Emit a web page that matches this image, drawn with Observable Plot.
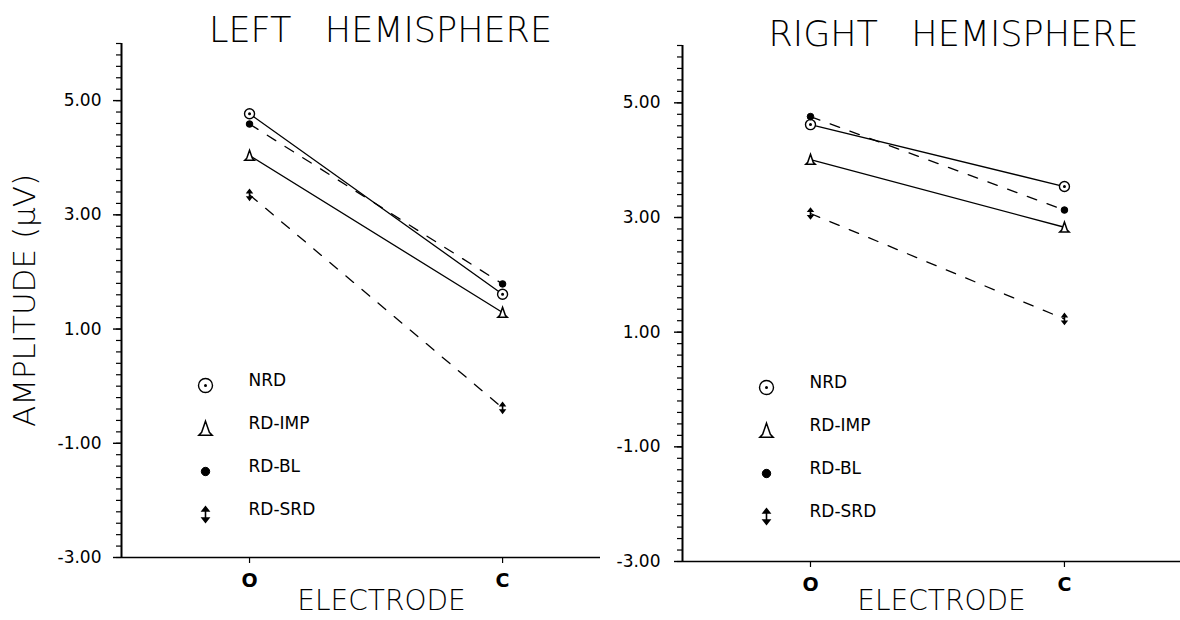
<!DOCTYPE html>
<html>
<head>
<meta charset="utf-8">
<script src="https://cdn.jsdelivr.net/npm/d3@7"></script>
<script src="https://cdn.jsdelivr.net/npm/@observablehq/plot@0.6"></script>
<style>
  html, body { margin: 0; padding: 0; background: #fff; }
  #chart { position: relative; width: 1180px; height: 620px; overflow: hidden; background: #fff; }
  #chart svg { position: absolute; top: 0; }
</style>
</head>
<body>
<div id="chart"></div>
<script>
// Mean evoked amplitude (µV) at occipital (O) and central (C) electrodes
const electrodes = ["O", "C"];
const groups = ["NRD", "RD-IMP", "RD-BL", "RD-SRD"];
const leftO  = [4.77, 4.04, 4.59, 3.35];
const leftC  = [1.61, 1.29, 1.79, -0.38];
const rightO = [4.62, 4.01, 4.76, 3.07];
const rightC = [3.54, 2.83, 3.13, 1.23];
const yTicks = [-3, -1, 1, 3, 5];

const FONT = "'DejaVu Sans', 'Liberation Sans', sans-serif";

// marker shapes
const circleDot = {
  draw(ctx, size) {
    const r = Math.sqrt(size / Math.PI);
    ctx.moveTo(r, 0); ctx.arc(0, 0, r, 0, 2 * Math.PI);
    ctx.moveTo(0.8, 0); ctx.arc(0, 0, 0.8, 0, 2 * Math.PI);
  }
};
const bell = {
  draw(ctx, size) {
    const r = Math.sqrt(size / Math.PI);
    ctx.moveTo(0, -r * 1.05);
    ctx.lineTo(r * 0.55, r * 0.55);
    ctx.lineTo(r * 0.95, r * 0.95);
    ctx.lineTo(-r * 0.95, r * 0.95);
    ctx.lineTo(-r * 0.55, r * 0.55);
    ctx.closePath();
  }
};
const doubleArrow = {
  draw(ctx, size) {
    const r = Math.sqrt(size / Math.PI) * 1.2;
    ctx.moveTo(0, -0.6 * r); ctx.lineTo(0, 0.6 * r);
    ctx.moveTo(-0.42 * r, -0.45 * r); ctx.lineTo(0, -r); ctx.lineTo(0.42 * r, -0.45 * r); ctx.closePath();
    ctx.moveTo(-0.42 * r, 0.45 * r); ctx.lineTo(0, r); ctx.lineTo(0.42 * r, 0.45 * r); ctx.closePath();
  }
};

const look = {
  "NRD":    {symbol: circleDot,   fill: "white", strokeWidth: 1.4, r: 5,   lr: 7,   dashed: false},
  "RD-IMP": {symbol: bell,        fill: "white", strokeWidth: 1.5, r: 5,   lr: 7,   dashed: false},
  "RD-BL":  {symbol: "circle",    fill: "black", strokeWidth: 1,   r: 3.3, lr: 4.2, dashed: true},
  "RD-SRD": {symbol: doubleArrow, fill: "black", strokeWidth: 1.6, r: 4.2, lr: 6.5, dashed: true}
};

function rows(oVals, cVals) {
  const out = [];
  groups.forEach((g, i) => {
    out.push({group: g, x: 1, value: oVals[i]});
    out.push({group: g, x: 2, value: cVals[i]});
  });
  return out;
}

function panel({title, oVals, cVals, width, marginLeft, marginTop, marginBottom, xDomain,
                titleDx, titleDy, labelDx, labelDy, tickPad, yLabel}) {
  const data = rows(oVals, cVals);
  const minor = d3.range(-30, 61, 2).map(v => v / 10);
  const marks = [
    // minor and major ticks on the amplitude axis
    Plot.axisY({ticks: minor, tickSize: 5, tickFormat: () => "", label: null, strokeWidth: 1.2}),
    Plot.axisY({ticks: yTicks, tickSize: 8, tickPadding: tickPad, label: null, strokeWidth: 1.4,
      tickFormat: d => (d < 0 ? "-" : "") + Math.abs(d).toFixed(2),
      fontSize: 17, fontFamily: FONT}),
    Plot.axisX({ticks: [1, 2], tickSize: 6, tickPadding: 10, label: null, strokeWidth: 1.2,
      tickFormat: d => electrodes[d - 1], fontSize: 19, fontWeight: "bold", fontFamily: FONT}),
    Plot.ruleX([xDomain[0]], {strokeWidth: 2}),
    Plot.ruleY([-3], {strokeWidth: 1.6}),
    Plot.line(data.filter(d => !look[d.group].dashed), {x: "x", y: "value", z: "group", strokeWidth: 1.3}),
    Plot.line(data.filter(d => look[d.group].dashed), {x: "x", y: "value", z: "group", strokeWidth: 1.3, strokeDasharray: "10,11"}),
    ...groups.map(g => Plot.dot(data.filter(d => d.group === g), {
      x: "x", y: "value", symbol: look[g].symbol, r: look[g].r,
      fill: look[g].fill, stroke: "black", strokeWidth: look[g].strokeWidth
    })),
    // legend
    ...groups.map((g, i) => Plot.dot([g], {
      frameAnchor: "top-left", dx: 84, dy: 342 + 43 * i, symbol: look[g].symbol, r: look[g].lr,
      fill: look[g].fill, stroke: "black", strokeWidth: look[g].strokeWidth
    })),
    ...groups.map((g, i) => Plot.text([g], {
      frameAnchor: "top-left", text: d => d, dx: 127, dy: 337 + 43 * i,
      textAnchor: "start", lineAnchor: "middle",
      fontSize: 17, fontFamily: FONT, letterSpacing: 1
    })),
    Plot.text([title], {text: d => d, frameAnchor: "top", dx: titleDx, dy: titleDy,
      textAnchor: "middle", lineAnchor: "middle",
      fontSize: 35, fontWeight: 200, fontFamily: FONT, letterSpacing: 0.5}),
    Plot.text(["ELECTRODE"], {text: d => d, frameAnchor: "bottom", dx: labelDx, dy: labelDy,
      textAnchor: "middle", lineAnchor: "middle",
      fontSize: 28, fontWeight: 200, fontFamily: FONT, letterSpacing: 0.8})
  ];
  if (yLabel) {
    marks.push(Plot.text([yLabel], {text: d => d, frameAnchor: "left", dx: 25 - marginLeft, dy: 0,
      textAnchor: "middle", lineAnchor: "middle",
      rotate: -90, fontSize: 31, fontWeight: 200, fontFamily: FONT}));
  }
  return Plot.plot({
    width, height: 620, marginLeft, marginRight: 0, marginTop, marginBottom,
    x: {domain: xDomain},
    y: {domain: [-3, 6]},
    style: {background: "none", color: "black", fontFamily: FONT, overflow: "visible"},
    marks
  });
}

const chart = document.getElementById("chart");

const left = panel({
  title: "LEFT\u00a0\u00a0\u00a0HEMISPHERE", oVals: leftO, cVals: leftC,
  width: 600, marginLeft: 121, marginTop: 43, marginBottom: 63, xDomain: [0.494, 2.387],
  titleDx: 19.5, titleDy: -13, labelDx: 20.5, labelDy: 44, tickPad: 12,
  yLabel: "AMPLITUDE (\u00b5V)"
});
left.style.left = "0px";
chart.appendChild(left);

const right = panel({
  title: "RIGHT\u00a0\u00a0\u00a0HEMISPHERE", oVals: rightO, cVals: rightC,
  width: 600, marginLeft: 102, marginTop: 45, marginBottom: 59, xDomain: [0.496, 2.457],
  titleDx: 22, titleDy: -11, labelDx: 10, labelDy: 40, tickPad: 14,
  yLabel: null
});
right.style.left = "580px";
chart.appendChild(right);
</script>
</body>
</html>
